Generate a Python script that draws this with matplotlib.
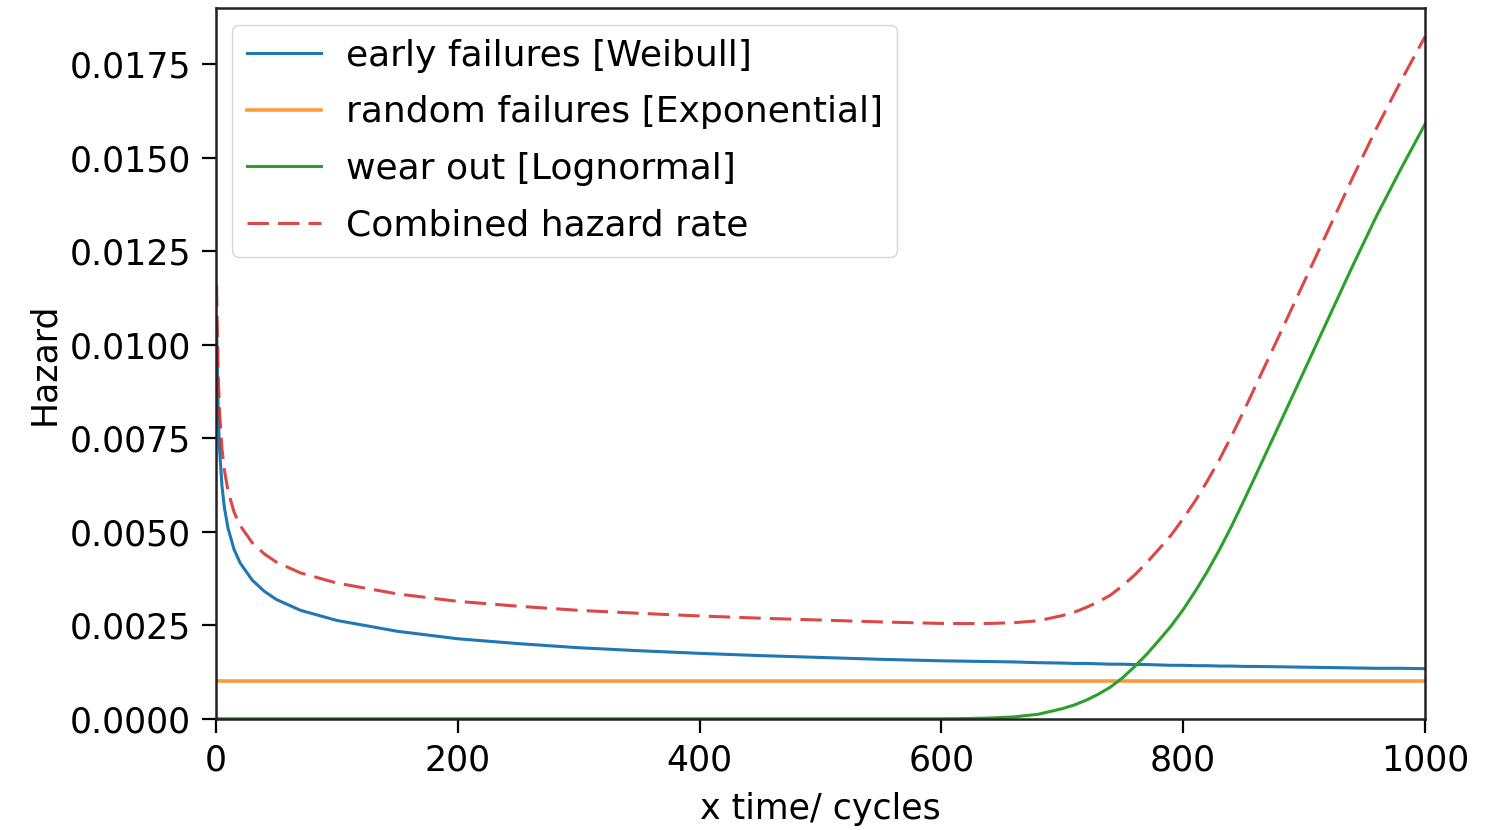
import numpy as np
import matplotlib
matplotlib.use("Agg")
import matplotlib.pyplot as plt

t = [0.5, 1, 2, 3, 5, 7, 10, 15, 20, 30, 40, 50, 70, 100, 150, 200, 250, 300,
     350, 400, 450, 500, 550, 600,
     620, 640, 660, 680, 700, 710, 720, 730, 740, 750, 760, 770, 780, 790,
     800, 810, 820, 830, 840, 850, 860, 880, 900, 920, 940, 960, 980, 1000]

# early failures (Weibull hazard)
h_weibull = [0.0106, 0.0097, 0.00812, 0.00722, 0.00623, 0.00565, 0.00510,
             0.00453, 0.00417, 0.00371, 0.00341, 0.00319, 0.00290, 0.00263,
             0.00234, 0.00214, 0.00201, 0.00190, 0.00182, 0.00175, 0.00169,
             0.00164, 0.00159, 0.00155,
             0.00154, 0.00153, 0.00152, 0.00150, 0.00149, 0.00148, 0.00148,
             0.00147, 0.00146, 0.00146, 0.00145, 0.00145, 0.00144, 0.00143,
             0.00143, 0.00142, 0.00142, 0.00141, 0.00141, 0.00140, 0.00140,
             0.00139, 0.00138, 0.00137, 0.00136, 0.00135, 0.00135, 0.00134]

# random failures (Exponential hazard, constant)
h_expon = 0.001

# wear out (Lognormal hazard)
h_lognorm = [0] * 24 + [
    0.000005, 0.00002, 0.00005, 0.00012, 0.00027, 0.00037, 0.0005, 0.00066,
    0.00085, 0.0011, 0.0014, 0.00173, 0.0021, 0.00248, 0.00292, 0.00341,
    0.00394, 0.00452, 0.00515, 0.00582, 0.00651, 0.0079, 0.0093, 0.0107,
    0.0121, 0.01345, 0.0147, 0.0159]

t = np.array(t)
h_weibull = np.array(h_weibull)
h_lognorm = np.array(h_lognorm)
h_exp = np.full_like(t, h_expon)
h_total = h_weibull + h_exp + h_lognorm

fs = 25
plt.rcParams['font.family'] = ['DejaVu Sans']
plt.rcParams['font.size'] = fs

fig = plt.figure(figsize=(14.89, 8.30), dpi=100)
ax = fig.add_axes([0.145, 0.134, 0.812, 0.856])

lw = 2.2
ax.plot(t, h_weibull, color='tab:blue', lw=lw, label='early failures [Weibull]')
ax.plot(t, h_exp, color='tab:orange', lw=2.6, alpha=0.8,
        label='random failures [Exponential]')
ax.plot(t, h_lognorm, color='tab:green', lw=lw, label='wear out [Lognormal]')
ax.plot(t, h_total, color='tab:red', lw=lw, ls=(0, (7, 3)), alpha=0.85,
        label='Combined hazard rate')

ax.set_xlim(0, 1000)
ax.set_ylim(0, 0.019)
ax.set_yticks([0, 0.0025, 0.005, 0.0075, 0.01, 0.0125, 0.015, 0.0175])
ax.set_yticklabels(['0.0000', '0.0025', '0.0050', '0.0075', '0.0100',
                    '0.0125', '0.0150', '0.0175'])
ax.set_xticks([0, 200, 400, 600, 800, 1000])
ax.tick_params(labelsize=fs, length=10, width=1.6, pad=8)
for s in ax.spines.values():
    s.set_linewidth(1.8)
    s.set_color('#222222')

ax.set_xlabel('x time/ cycles', fontsize=fs, labelpad=10)
ax.set_ylabel('Hazard', fontsize=fs, labelpad=6)

ax.legend(loc='upper left', fontsize=26, handlelength=2.05, handletextpad=0.7,
          labelspacing=0.62, framealpha=0.8, borderaxespad=0.45)

fig.savefig('out.png', dpi=100)
